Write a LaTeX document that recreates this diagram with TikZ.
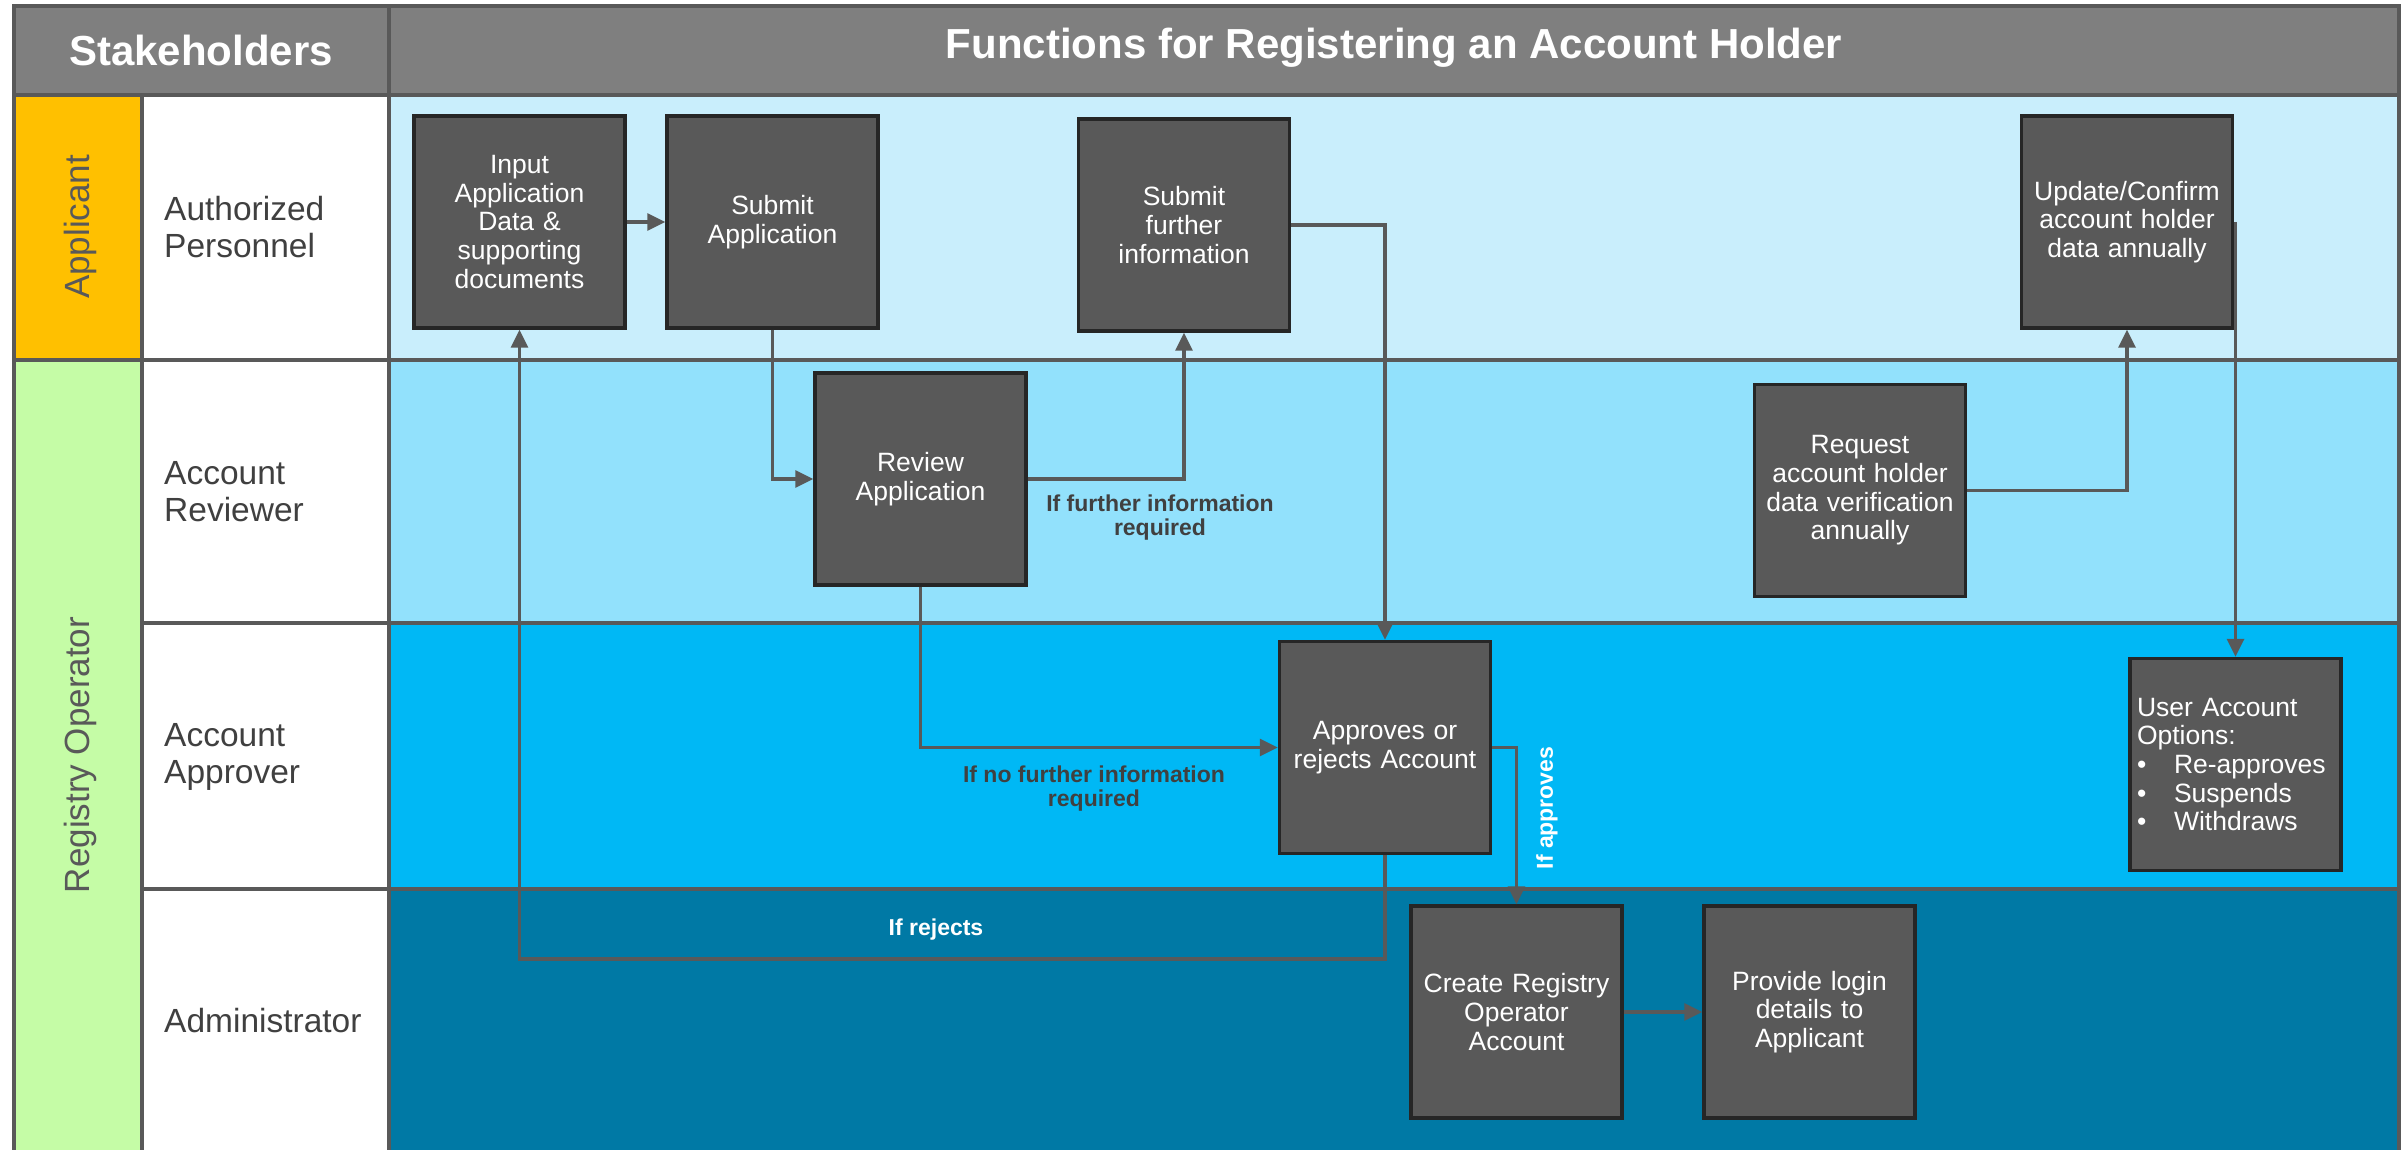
\documentclass[tikz,border=0pt]{standalone}
\usepackage{fontspec}
\setmainfont{Liberation Sans}
\usetikzlibrary{arrows.meta,calc}
\definecolor{hdr}{RGB}{127,127,127}
\definecolor{lineg}{RGB}{89,89,89}
\definecolor{boxf}{RGB}{89,89,89}
\definecolor{boxd}{RGB}{38,38,38}
\definecolor{orangec}{RGB}{255,192,0}
\definecolor{greenc}{RGB}{197,252,166}
\definecolor{laneA}{RGB}{201,238,252}
\definecolor{laneB}{RGB}{146,225,252}
\definecolor{laneC}{RGB}{0,184,245}
\definecolor{laneD}{RGB}{0,121,165}
\definecolor{txtd}{RGB}{64,64,64}
\begin{document}
\begin{tikzpicture}[x=1pt,y=-1pt,
  cell/.style={draw=lineg,line width=3.5pt},
  proc/.style={draw=boxd,fill=boxf,line width=3.5pt,minimum width=211pt,minimum height=212pt,
    text width=203pt,align=center,text=white,font=\fontsize{26.5}{28.7}\selectfont,inner sep=0pt},
  flow/.style={draw=lineg,line width=3.3pt,-{Triangle[length=18pt,width=17pt]}},
  lbl/.style={font=\bfseries\fontsize{23}{24}\selectfont,text=txtd,align=center,inner sep=0pt},
  role/.style={font=\fontsize{33.5}{37}\selectfont,text=txtd,align=left,anchor=west,inner sep=0pt},
  side/.style={font=\fontsize{35}{40}\selectfont,text=lineg,rotate=90,inner sep=0pt},
  head/.style={font=\bfseries\fontsize{42}{48}\selectfont,text=white,inner sep=0pt}
]
\useasboundingbox (0,0) rectangle (2402,1150);
\fill[white] (0,0) rectangle (2402,1150);
% header
\path[cell,fill=hdr] (14,6) rectangle (389,95);
\path[cell,fill=hdr] (389,6) rectangle (2399,95);
\node[head] (hs) at (201,50) {Stakeholders};
\node[head] (hf) at (1394,48) {Functions for Registering an Account Holder};
% side columns
\path[cell,fill=orangec] (14,95) rectangle (142,360);
\path[cell,fill=greenc] (14,360) rectangle (142,1162);
\node[side] (sa) at (80,227) {Applicant};
\node[side] (sr) at (80,755) {Registry Operator};
% role cells
\path[cell,fill=white] (142,95) rectangle (389,360);
\path[cell,fill=white] (142,360) rectangle (389,623);
\path[cell,fill=white] (142,623) rectangle (389,889);
\path[cell,fill=white] (142,889) rectangle (389,1162);
\node[role] (r1) at (164,227) {Authorized\\Personnel};
\node[role] (r2) at (164,492) {Account\\Reviewer};
\node[role] (r3) at (164,757) {Account\\Approver};
\node[role] (r4) at (164,1021) {Administrator};
% lanes
\path[cell,fill=laneA] (389,95) rectangle (2399,360);
\path[cell,fill=laneB] (389,360) rectangle (2399,623);
\path[cell,fill=laneC] (389,623) rectangle (2399,889);
\path[cell,fill=laneD] (389,889) rectangle (2399,1162);
% process boxes
\node[proc] (input) at (519.5,222) {Input\\Application\\Data \&\\supporting\\documents};
\node[proc] (submit) at (772.5,222) {Submit\\Application};
\node[proc] (further) at (1184,225) {Submit\\further\\information};
\node[proc] (update) at (2127,222) {Update/Confirm\\account holder\\data annually};
\node[proc] (review) at (920.5,479) {Review\\Application};
\node[proc] (request) at (1860,490.5) {Request\\account holder\\data verification\\annually};
\node[proc] (approve) at (1385,747.5) {Approves or\\rejects Account};
\node[proc,align=left,text width=197pt] (options) at (2235.5,764.5) {User Account\\Options:\\\makebox[37pt][l]{\textbullet}Re-approves\\\makebox[37pt][l]{\textbullet}Suspends\\\makebox[37pt][l]{\textbullet}Withdraws};
\node[proc] (create) at (1516.5,1012) {Create Registry\\Operator\\Account};
\node[proc] (provide) at (1809.5,1012) {Provide login\\details to\\Applicant};
% connectors
\coordinate (rj) at (1385,959);
\draw[flow] (input.east) -- (submit.west);
\draw[flow] (submit.south) |- (review.west);
\draw[flow] (review.east) -| (further.south);
\draw[flow] (further.east) -| (approve.north);
\draw[flow] (review.south) |- (approve.west);
\draw[flow] (approve.south) -- (rj) -| (input.south);
\draw[flow] (approve.east) -| (create.north);
\draw[flow] (create.east) -- (provide.west);
\draw[flow] (request.east) -| (update.south);
\draw[flow] (options.north |- update.east) -- (options.north);
% labels
\node[lbl] (l1) at (1160,518) {If further information\\required};
\node[lbl] (l2) at (1094,789) {If no further information\\required};
\node[lbl,text=white] (l3) at (936,930) {If rejects};
\node[lbl,text=white,rotate=90] (l4) at (1547,808) {If approves};
\end{tikzpicture}
\end{document}
